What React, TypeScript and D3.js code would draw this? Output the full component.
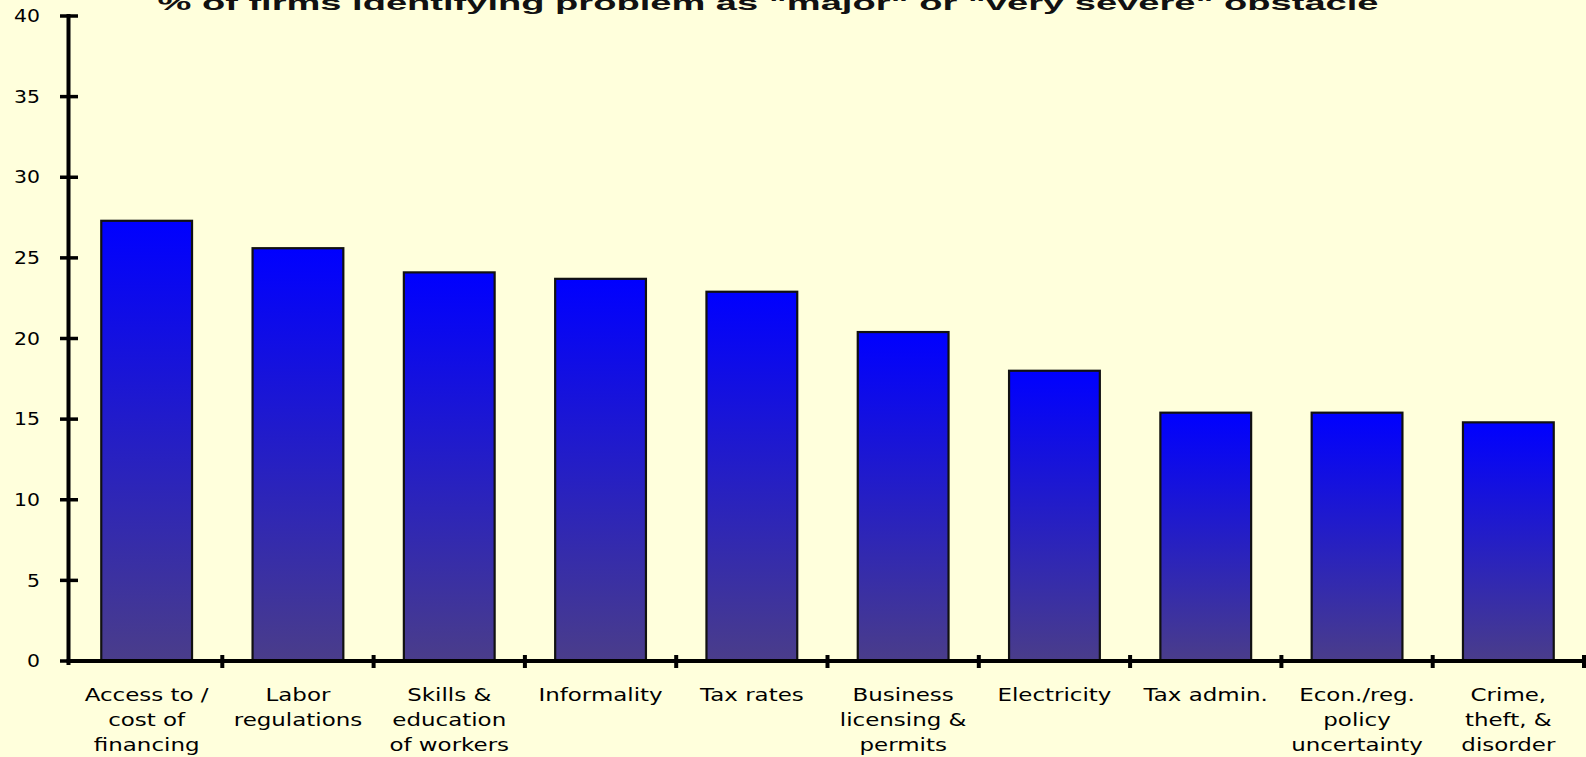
import React, { useEffect } from "react";
import * as d3 from "d3";

const categories: string[][] = [
  ["Access to /", "cost of", "financing"],
  ["Labor", "regulations"],
  ["Skills &", "education", "of workers"],
  ["Informality"],
  ["Tax rates"],
  ["Business", "licensing &", "permits"],
  ["Electricity"],
  ["Tax admin."],
  ["Econ./reg.", "policy", "uncertainty"],
  ["Crime,", "theft, &", "disorder"],
];
const values: number[] = [27.3, 25.6, 24.1, 23.7, 22.9, 20.4, 18.0, 15.4, 15.4, 14.8];
const yTicks: number[] = [0, 5, 10, 15, 20, 25, 30, 35, 40];
const title = '% of firms identifying problem as "major" or "very severe" obstacle';

const W = 1586;
const H = 757;

export default function App() {
  useEffect(() => {
    document.body.style.margin = "0";
  }, []);

  const keys = categories.map((_, i) => String(i));
  const x = d3.scaleBand<string>().domain(keys).range([71, 1584]).paddingInner(0.4).paddingOuter(0.2);
  const xb = d3.scaleBand<string>().domain(keys).range([71, 1584]).padding(0);
  const y = d3.scaleLinear().domain([0, 40]).range([661, 16]);
  const axisX = 68.5;
  const labelFont = "'DejaVu Sans', Verdana, sans-serif";

  return (
    <div style={{ position: "absolute", left: 0, top: 0 }}>
      <svg width={W} height={H} style={{ display: "block" }}>
        <defs>
          <linearGradient id="barGrad" x1="0" y1="0" x2="0" y2="1">
            <stop offset="0%" stopColor="#0000ff" />
            <stop offset="100%" stopColor="#4a3d8a" />
          </linearGradient>
        </defs>
        <rect x={0} y={0} width={W} height={H} fill="#ffffdc" />
        <text
          x={768}
          y={10}
          textAnchor="middle"
          fontFamily="'Liberation Sans', Arial, sans-serif"
          fontWeight="bold"
          fontSize={21}
          fill="#111"
          textLength={1221}
          lengthAdjust="spacingAndGlyphs"
        >
          {title}
        </text>
        {values.map((v, i) => (
          <rect
            key={i}
            x={x(String(i))}
            y={y(v)}
            width={x.bandwidth()}
            height={y(0) - y(v)}
            fill="url(#barGrad)"
            stroke="#111"
            strokeWidth={2.2}
          />
        ))}
        {/* y axis */}
        <line x1={axisX} x2={axisX} y1={y(40) - 2} y2={y(0) + 4} stroke="#000" strokeWidth={4} />
        {yTicks.map((t) => (
          <g key={t}>
            <line x1={60} x2={78} y1={y(t)} y2={y(t)} stroke="#000" strokeWidth={3.5} />
            <text
              transform={`translate(40,${y(t)}) scale(1.2,1)`}
              textAnchor="end"
              dy="0.36em"
              fontFamily={labelFont}
              fontSize={17}
              fill="#000"
            >
              {t}
            </text>
          </g>
        ))}
        {/* x axis */}
        <line x1={axisX - 2} x2={W} y1={y(0)} y2={y(0)} stroke="#000" strokeWidth={4} />
        {keys.map((k) => {
          const bx = (xb(k) as number) + xb.bandwidth();
          return <line key={"t" + k} x1={bx} x2={bx} y1={y(0) - 6} y2={y(0) + 7} stroke="#000" strokeWidth={4} />;
        })}
        {categories.map((lines, i) => {
          const cx = (xb(String(i)) as number) + xb.bandwidth() / 2;
          return lines.map((ln, j) => (
            <text
              key={i + "-" + j}
              transform={`translate(${cx},${701 + j * 25}) scale(1.35,1)`}
              textAnchor="middle"
              fontFamily={labelFont}
              fontSize={17}
              fill="#000"
            >
              {ln}
            </text>
          ));
        })}
      </svg>
    </div>
  );
}
